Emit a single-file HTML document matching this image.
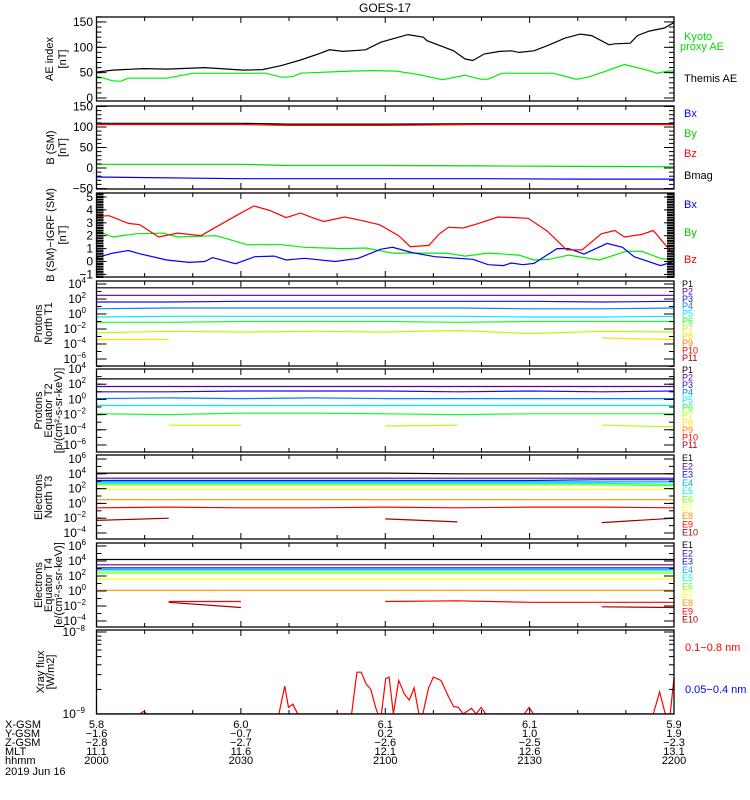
<!DOCTYPE html>
<html><head><meta charset="utf-8"><style>
body{margin:0;background:#fff}
svg{display:block;font-family:"Liberation Sans",sans-serif}
</style></head><body>
<svg id="c" width="750" height="800" xmlns="http://www.w3.org/2000/svg"></svg>
<script>
// ---- data ----
const aeTimes=[0,3.4,9.8,14.6,22.5,30.5,34.5,38.4,42.4,46.4,48.4,51.2,55.9,59.1,64.7,67.9,68.7,74.2,76.6,78.2,80.6,83.8,86.2,87.8,90.9,94.1,97.3,100.5,102.9,106.5,107.7,110.9,112.4,114.8,118,120];
const aeKyoto=[51,55,58,57,60,55,56,64,75,88,95,92,95,110,125,120,113,93,77,74,87,92,93,90,93,105,118,126,123,105,107,108,123,132,138,149];
const themisTimes=[0,3.4,5,6.6,14.6,20.1,35.2,38.4,40.8,42.4,52.7,57.5,62.3,67.1,71.9,76.6,79.8,81.4,84.2,94.9,99.7,102.1,105.3,109.7,114.8,116.4,118.8,120];
const themisAE=[43,34,33,39,39,49,49,41,42,49,53,54,53,46,36,45,37,37,49,49,37,41,51,66,54,49,53,53];
const bTimes=[0,30,40,60,80,100,120];
const bBx=[-22,-26,-26,-26,-26,-27,-27];
const bBy=[9,9,6,6,5,4,3];
const bBz=[106,106,104,104,106,106,106];
const bBmag=[109,109,107,107,108,108,108];
const dTimesR=[0,2.6,6.6,9,12.9,16.9,21.7,25.7,29.7,32.7,36,39.4,42.4,44.8,47.2,51.6,54.8,58.8,62.8,65.2,69.1,71.1,73.1,76.2,79.4,83.4,86.9,89.7,93.7,97.7,100.9,104.9,107.7,109.7,113.3,115.7,120];
const dBz=[3.5,3.55,2.95,2.85,1.9,2.2,2.0,2.85,3.7,4.3,3.95,3.4,3.75,3.4,3.1,3.45,3.2,2.85,2.0,1.15,1.25,2.1,2.65,2.6,2.95,3.45,3.4,3.35,2.35,0.9,0.9,2.15,2.4,1.9,2.1,2.4,0.5];
const dTimesG=[0,3.4,8.2,13.8,16.9,24.9,31.3,38.4,43.2,51.2,56,61.5,72.7,76.6,81.4,87.8,90.9,94.1,98.1,104.5,110.1,113.3,117.2,120];
const dBy=[2.4,1.9,2.15,2.2,1.9,2.0,1.3,1.3,1.1,1.0,1.05,0.65,0.65,0.42,0.65,0.5,0.12,0.17,0.5,0.12,0.8,0.78,0.25,0.12];
const dTimesB=[0,3.4,6.6,9,14.6,19.3,22.5,24.1,28.9,32.9,36.9,39.4,43.2,49.6,54.4,59.1,61.5,65.5,70.3,78.2,81.4,84.6,86.2,88.6,90.9,95.7,98.1,101.3,106.1,109.3,111.7,117.2,120];
const dBx=[0.3,0.65,0.85,0.6,0.12,-0.07,0,0.3,-0.17,0.37,0.42,0.12,0.25,0,0.25,0.95,1.1,0.7,0.37,0.17,-0.25,-0.32,-0.12,-0.25,-0.15,1.0,1.0,0.57,1.4,1.1,0.37,-0.32,0];
const chTimes=[0,15,30,45,60,75,90,105,120];
const pColors=["#000000","#5a0096","#1010ff","#0080ff","#00e8ff","#10ff30","#b0ff00","#ffe000","#ff8000","#ff0000","#a00000"];
const eColors=["#000000","#5a0096","#1010ff","#00a8ff","#00ffc0","#70ff00","#ffff00","#ff9000","#ff0000","#a00000"];
const t1=[[3.5,3.5,3.5,3.5,3.5,3.5,3.5,3.5,3.5],[2.5,2.5,2.5,2.5,2.5,2.5,2.5,2.5,2.5],[1.6,1.6,1.7,1.7,1.7,1.7,1.7,1.6,1.7],[0.7,0.8,0.8,0.8,0.8,0.8,0.7,0.7,0.8],[-0.4,-0.3,-0.3,-0.3,-0.3,-0.3,-0.4,-0.4,-0.3],[-1.1,-1.1,-1.0,-1.0,-1.0,-1.1,-1.0,-1.0,-1.0],[-2.5,-2.3,-2.4,-2.3,-2.4,-2.2,-2.6,-2.3,-2.4],[-3.4,-3.4,null,null,null,null,null,-3.2,-3.4]];
const t2=[[2.7,2.7,2.7,2.7,2.7,2.7,2.7,2.7,2.7],[1.7,1.7,1.7,1.7,1.7,1.7,1.7,1.7,1.7],[1.0,1.0,1.1,1.1,1.1,1.0,1.1,1.0,1.1],[0.1,0.2,0.1,0.2,0.1,0.1,0.1,0.1,0.1],[-0.8,-0.8,-0.8,-0.8,-0.8,-0.8,-0.8,-0.8,-0.8],[-1.9,-2.0,-1.8,-1.8,-1.9,-2.0,-1.9,-1.9,-1.9],[null,-3.4,-3.4,null,-3.5,-3.4,null,-3.4,-3.6]];
const t3=[[4.1,4.1,4.1,4.1,4.1,4.0,4.0,4.0,4.0],[3.4,3.4,3.4,3.4,3.4,3.4,3.4,3.4,3.4],[3.1,3.1,3.1,3.1,3.1,3.1,3.1,3.2,3.2],[2.9,2.9,2.9,2.9,2.9,2.9,2.9,2.9,2.9],[2.7,2.7,2.7,2.7,2.7,2.7,2.7,2.7,2.6],[2.5,2.5,2.5,2.5,2.5,2.5,2.5,2.5,2.4],[1.9,1.9,1.9,1.9,1.9,1.9,1.9,1.9,1.9],[0.5,0.5,0.5,0.5,0.5,0.5,0.5,0.5,0.5],[-0.6,-0.5,-0.6,-0.6,-0.5,-0.6,-0.5,-0.5,-0.6],[-2.3,-2.0,null,null,-2.1,-2.5,null,-2.6,-2.0]];
const t4=[[4.2,4.2,4.2,4.2,4.2,4.2,4.2,4.2,4.2],[3.5,3.5,3.5,3.5,3.5,3.5,3.5,3.5,3.5],[3.1,3.1,3.1,3.1,3.1,3.1,3.1,3.1,3.1],[2.9,2.9,2.9,2.9,2.9,2.9,2.9,2.9,2.9],[2.7,2.7,2.7,2.7,2.7,2.7,2.7,2.7,2.7],[2.4,2.4,2.4,2.4,2.4,2.4,2.4,2.4,2.4],[1.6,1.6,1.6,1.6,1.6,1.6,1.6,1.6,1.6],[0.1,0.1,0.1,0.1,0.1,0.1,0.1,0.1,0.1],[null,-1.4,-1.4,null,-1.4,-1.3,-1.5,-1.5,-1.5],[null,-1.5,-2.2,null,-1.6,null,null,-2.1,-2.2]];
const xrTimes=[0,9,9.75,10.5,37.9,39.1,39.9,40.8,41.8,53,54.1,55,56,57,58,58.5,59.2,60.1,60.8,61.7,62.8,64,65,66,67,67.8,69,70,71.6,72.9,74.2,75.2,76.2,77.9,78.9,79.9,80.9,88.9,89.9,90.8,115.7,117,118.2,119.2,120];
const xrLong=[-9,-9,-8.97,-9,-9,-8.66,-8.92,-8.88,-9,-9,-8.49,-8.49,-8.63,-8.7,-8.92,-9,-9,-8.57,-8.55,-9,-8.59,-8.76,-8.83,-8.68,-9,-9,-8.68,-8.55,-8.59,-8.76,-8.91,-8.92,-9,-8.93,-9,-8.92,-9,-9,-8.92,-9,-9,-8.73,-9,-9,-8.56];
const xrShort=[-9,-9,-9,-9,-9,-9,-9];
const xrShortTimes=[0,20,40,60,80,100,120];
const posRows=["X-GSM","Y-GSM","Z-GSM","MLT","hhmm"];
const posVals=[["5.8","6.0","6.1","6.1","5.9"],["-1.6","-0.7","0.2","1.0","1.9"],["-2.8","-2.7","-2.6","-2.5","-2.3"],["11.1","11.6","12.1","12.6","13.1"],["2000","2030","2100","2130","2200"]];

// ---- drawing ----
const svg=document.getElementById('c');const NS="http://www.w3.org/2000/svg";
const X0=96.5,X1=674;
const xs=m=>X0+m/120*(X1-X0);
function el(tag,attrs,parent){const e=document.createElementNS(NS,tag);for(const k in attrs)e.setAttribute(k,attrs[k]);(parent||svg).appendChild(e);return e;}
function txt(s,x,y,attrs,parent){const t=el('text',Object.assign({x:x,y:y,'font-size':11},attrs||{}),parent);t.textContent=s;return t;}
function line(times,vals,ys,color,name,g){let pts=[];const segs=[];times.forEach((t,i)=>{const v=vals[i];if(v===null){if(pts.length)segs.push(pts);pts=[];}else pts.push(xs(t).toFixed(1)+','+ys(v).toFixed(1));});if(pts.length)segs.push(pts);
 segs.forEach(s=>{const p=el('polyline',{points:s.join(' '),fill:'none',stroke:color,'stroke-width':1.2},g);
 
 });}
function panel(name,top,bot,ys,majors,minors,labelFn,title,titleX,opts){
 const g=el('g',{});
 
 
 opts=opts||{};
 const clip=el('clipPath',{id:'cl'+name},g);el('rect',{x:X0,y:top,width:X1-X0,height:bot-top},clip);
 const dg=el('g',{'clip-path':'url(#cl'+name+')'},g);
 for(let m=0;m<=120;m+=10){const L=(m%30===0)?6:4;const x=xs(m);el('line',{x1:x,x2:x,y1:bot,y2:bot-L,stroke:'#000'},g);el('line',{x1:x,x2:x,y1:top,y2:top+L,stroke:'#000'},g);}
 minors.forEach(v=>{const y=ys(v);if(y<top-0.5||y>bot+0.5)return;const L=opts.minorLen||5;el('line',{x1:X0,x2:X0+L,y1:y,y2:y,stroke:'#000','stroke-width':opts.minorW||1},g);el('line',{x1:X1,x2:X1-L,y1:y,y2:y,stroke:'#000','stroke-width':opts.minorW||1},g);});
 majors.forEach(v=>{const y=ys(v);if(y>=top-0.5&&y<=bot+0.5){el('line',{x1:X0,x2:X0+10,y1:y,y2:y,stroke:'#000'},g);el('line',{x1:X1,x2:X1-10,y1:y,y2:y,stroke:'#000'},g);}
  labelFn(v,y,g);});
 el('rect',{x:X0,y:top,width:X1-X0,height:bot-top,fill:'none',stroke:'#000','stroke-width':1.3},g);
 const cy=(top+bot)/2;
 title.forEach((s,i)=>{const xx=titleX[i]+4;const t=txt(s,xx,cy,{'text-anchor':'middle',transform:'rotate(-90 '+xx+' '+cy+')','font-size':11},g);
 
 });
 return dg;}
const linLab=(v,y,g)=>txt(String(v).replace('-','−'),93,y+4,{'text-anchor':'end','font-size':12},g);
const logLab=(v,y,g)=>{const t=txt('10',86,y+4,{'text-anchor':'end','font-size':12},g);const s=el('tspan',{dy:-5,'font-size':8},t);s.textContent=String(v).replace('-','−');};
const logLabX=(v,y,g)=>{const t=txt('10',85,y+4,{'text-anchor':'end','font-size':12},g);const s=el('tspan',{dy:-5,'font-size':8},t);s.textContent=String(v).replace('-','−');};
function range(a,b,s){const r=[];for(let v=a;v<=b+1e-9;v+=s)r.push(Math.round(v*100)/100);return r;}

txt('GOES-17',385,12,{'text-anchor':'middle','font-size':12,});

// AE
const yAE=v=>98-v*0.507;
let g=panel('ae',17,101,yAE,[0,50,100,150],range(-10,160,10),linLab,['AE index','[nT]'],[49,62]);
line(themisTimes,themisAE,yAE,'#00ee00','themis-ae-line',g);
line(aeTimes,aeKyoto,yAE,'#000','kyoto-ae-line',g);
txt('Kyoto',684,40,{fill:'#00dd00','font-size':11,});
txt('proxy AE',680,50,{fill:'#00dd00','font-size':11,});
txt('Themis AE',684,82,{fill:'#000','font-size':11,});

// B SM
const yB=v=>168-0.41*v;
g=panel('bsm',106,189,yB,[-50,0,50,100,150],range(-50,150,10),linLab,['B (SM)','[nT]'],[50,62]);
line(bTimes,bBmag,yB,'#000','bmag-line',g);
line(bTimes,bBz,yB,'#ff0000','bz-line',g);
line(bTimes,bBy,yB,'#00dd00','by-line',g);
line(bTimes,bBx,yB,'#0000ff','bx-line',g);
[['Bx','#0000ff',117],['By','#00cc00',137],['Bz','#ff0000',157],['Bmag','#000',179]].forEach(a=>txt(a[0],684,a[2],{fill:a[1],'font-size':11}));

// B - IGRF
const yD=v=>261.5-12.9*v;
g=panel('bigrf',193,277,yD,[-1,0,1,2,3,4,5],range(-1.2,5.4,0.2),linLab,['B (SM)−IGRF (SM)','[nT]'],[50,62],{minorLen:7,minorW:2});
line(dTimesG,dBy,yD,'#00ee00','dby-line',g);
line(dTimesB,dBx,yD,'#0000ff','dbx-line',g);
line(dTimesR,dBz,yD,'#ff0000','dbz-line',g);
[['Bx','#0000ff',208],['By','#00cc00',236],['Bz','#ff0000',263]].forEach(a=>txt(a[0],684,a[2],{fill:a[1],'font-size':11}));

function chanPanel(name,top,bot,ys,majors,title,tx,data,colors,labels,ly0,lstep){
 const dg=panel(name,top,bot,ys,majors,range(-8,7,1),logLab,title,tx);
 data.forEach((vals,i)=>line(chTimes,vals,ys,colors[i],name+'-'+labels[i].toLowerCase()+'-line',dg));
 labels.forEach((s,i)=>{const t=txt(s,682,ly0+i*lstep,{fill:colors[i],'font-size':9});
 
 });}
const pLabels=['P1','P2','P3','P4','P5','P6','P7','P8','P9','P10','P11'];
const eLabels=['E1','E2','E3','E4','E5','E6','E7','E8','E9','E10'];
const yT1=L=>284+(4-L)*7.5, yT2=L=>369+(4-L)*7.6, yT3=L=>459+(6-L)*7.4, yT4=L=>546+(6-L)*7.5;
chanPanel('protons-t1',281,366,yT1,[4,2,0,-2,-4,-6],['Protons','North T1'],[38,48],t1,pColors,pLabels,287,7.4);
chanPanel('protons-t2',369,452,yT2,[4,2,0,-2,-4,-6],['Protons','Equator T2','[p/(cm²-s-sr-keV)]'],[38,48,58],t2,pColors,pLabels,373,7.5);
chanPanel('electrons-t3',455,539,yT3,[6,4,2,0,-2,-4],['Electrons','North T3'],[38,48],t3,eColors,eLabels,461,8.3);
chanPanel('electrons-t4',543,627,yT4,[6,4,2,0,-2,-4],['Electrons','Equator T4','[e/(cm²-s-sr-keV)]'],[38,48,58],t4,eColors,eLabels,548,8.3);

// Xray
const yX=L=>714-(L+9)*82;
g=panel('xray',630,714,yX,[-8,-9],[-9,-8.7,-8.52,-8.4,-8.3,-8.22,-8.15,-8.1,-8.05,-8],logLabX,['Xray flux','[W/m2]'],[40,50]);
line(xrShortTimes,xrShort,yX,'#0000ff','xray-short-line',g);
line(xrTimes,xrLong,yX,'#ff0000','xray-long-line',g);
txt('0.1−0.8 nm',685,651,{fill:'#ff0000','font-size':11,});
txt('0.05−0.4 nm',685,693,{fill:'#0000ff','font-size':11,});

// position table
const rowY=[728,737,746,755,764];
posRows.forEach((r,i)=>{txt(r,5,rowY[i],{'font-size':11});posVals[i].forEach((v,j)=>txt(v.replace('-','−'),xs(j*30),rowY[i],{'text-anchor':'middle','font-size':11}));});
txt('2019 Jun 16',5,775,{'font-size':11,});
</script>
</body></html>
